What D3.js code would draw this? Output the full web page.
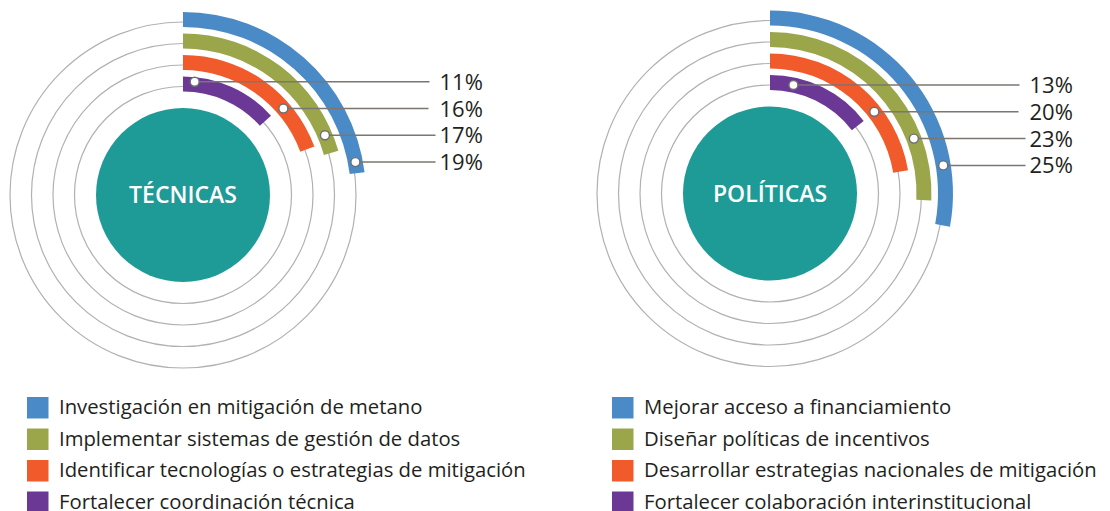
<!DOCTYPE html>
<html>
<head>
<meta charset="utf-8">
<script src="https://cdn.jsdelivr.net/npm/d3@7"></script>
<style>
    body { margin: 0; background: #fff; }
    svg { display: block; font-family: "Open Sans", sans-serif; }
</style>
</head>
<body>
<div id="chart"></div>
<script>
// Categories (outermost ring first)
const tecnicasCategorias = [
    'Investigación en mitigación de metano',
    'Implementar sistemas de gestión de datos',
    'Identificar tecnologías o estrategias de mitigación',
    'Fortalecer coordinación técnica'
];
const tecnicasValores = [19, 17, 16, 11];

const politicasCategorias = [
    'Mejorar acceso a financiamiento',
    'Diseñar políticas de incentivos',
    'Desarrollar estrategias nacionales de mitigación',
    'Fortalecer colaboración interinstitucional'
];
const politicasValores = [25, 23, 20, 13];

const titulos = ['TÉCNICAS', 'POLÍTICAS'];
const colores = ['#4a8bc7', '#9ba54a', '#f15a2a', '#6c3896'];

const width = 1110, height = 511;

const svg = d3.select('#chart').append('svg')
    .attr('width', width)
    .attr('height', height);

// Layout of each ring chart
const charts = [
    { title: titulos[0], cats: tecnicasCategorias, values: tecnicasValores,
      cx: 183, cy: 195, maxDeg: 109, labelTop: -113.3, labelX: 439.5, legendX: 27 },
    { title: titulos[1], cats: politicasCategorias, values: politicasValores,
      cx: 770, cy: 193.5, maxDeg: 100.5, labelTop: -108.5, labelX: 1029.5, legendX: 612 }
];

// Ring radius per category index
const ringScale = d3.scalePoint()
    .domain(d3.range(4))
    .range([173, 108.5]);

const leaderGap = [10, 11, 4, 4]; // top to bottom
const rowStep = 26.8;

charts.forEach(c => {
    const g = svg.append('g').attr('transform', `translate(${c.cx},${c.cy})`);

    const angle = d3.scaleLinear()
        .domain([0, 25])
        .range([0, c.maxDeg * Math.PI / 180]);

    // Thin grey full circles
    g.selectAll('.ring')
        .data(d3.range(4))
        .join('circle')
        .attr('class', 'ring')
        .attr('r', d => ringScale(d))
        .attr('fill', 'none')
        .attr('stroke', '#b1b1b1')
        .attr('stroke-width', 1.2);

    // Coloured arcs
    const arc = d3.arc()
        .innerRadius(d => ringScale(d.i) - 5)
        .outerRadius(d => ringScale(d.i) + 10)
        .startAngle(0)
        .endAngle(d => angle(d.v));

    g.selectAll('.band')
        .data(c.values.map((v, i) => ({ v, i })))
        .join('path')
        .attr('class', 'band')
        .attr('d', arc)
        .attr('fill', d => colores[d.i]);

    // Centre disc and title
    g.append('circle')
        .attr('r', 87)
        .attr('fill', '#1e9a97');

    g.append('text')
        .attr('y', 8.3)
        .attr('text-anchor', 'middle')
        .attr('fill', '#fff')
        .attr('font-size', 23)
        .attr('font-weight', 600)
        .text(c.title);

    // Leaders: rows from innermost ring (top) to outermost (bottom)
    const rows = d3.range(4).map(k => {
        const i = 3 - k;
        const y = c.labelTop + k * rowStep;
        // dot sits on the band where the leader crosses it
        const rMid = Math.max(ringScale(i) + 2.5, Math.abs(y) + 0.6);
        const x = Math.sqrt(rMid * rMid - y * y);
        return { i, k, x, y, v: c.values[i] };
    });

    g.selectAll('.leader')
        .data(rows)
        .join('line')
        .attr('class', 'leader')
        .attr('x1', d => d.x)
        .attr('x2', d => c.labelX - c.cx - leaderGap[d.k])
        .attr('y1', d => d.y)
        .attr('y2', d => d.y)
        .attr('stroke', '#7b7671')
        .attr('stroke-width', 1.5);

    g.selectAll('.dot')
        .data(rows)
        .join('circle')
        .attr('class', 'dot')
        .attr('cx', d => d.x)
        .attr('cy', d => d.y)
        .attr('r', 4.5)
        .attr('fill', '#fff')
        .attr('stroke', '#6d6e71')
        .attr('stroke-width', 1.4);

    g.selectAll('.pct')
        .data(rows)
        .join('text')
        .attr('class', 'pct')
        .attr('x', c.labelX - c.cx)
        .attr('y', d => d.y + 8)
        .attr('font-size', 22)
        .attr('fill', '#231f20')
        .text(d => d.v + '%');

    // Legend
    const legend = svg.append('g')
        .attr('transform', `translate(${c.legendX},397)`);

    const item = legend.selectAll('.item')
        .data(c.cats)
        .join('g')
        .attr('class', 'item')
        .attr('transform', (d, i) => `translate(0,${i * 31.5})`);

    item.append('rect')
        .attr('width', 21.5)
        .attr('height', 21.5)
        .attr('fill', (d, i) => colores[i]);

    item.append('text')
        .attr('x', 32)
        .attr('y', 17)
        .attr('font-size', 20.3)
        .attr('fill', '#231f20')
        .text(d => d);
});
</script>
</body>
</html>
